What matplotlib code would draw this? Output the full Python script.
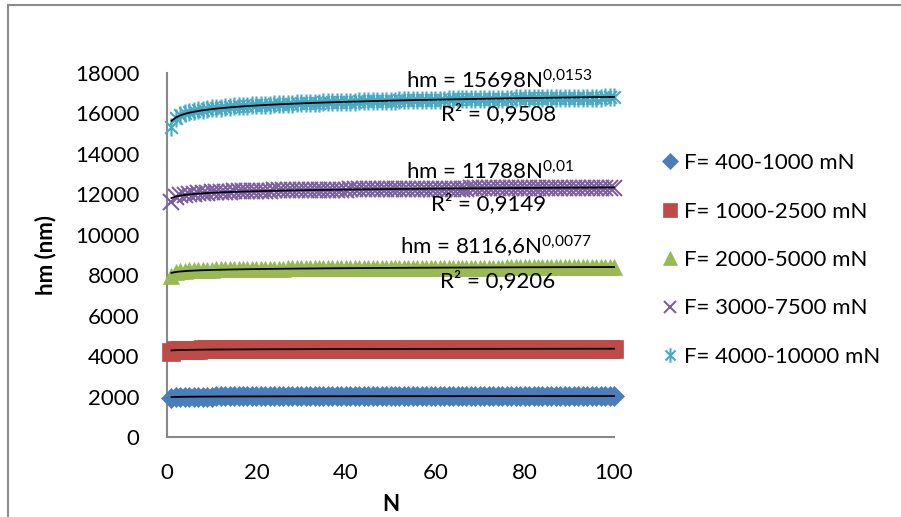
import numpy as np
import matplotlib
matplotlib.use("Agg")
import matplotlib.pyplot as plt
from matplotlib.path import Path
from matplotlib.patches import Rectangle

plt.rcParams['font.family'] = ['Lato', 'DejaVu Sans']
plt.rcParams['mathtext.fontset'] = 'custom'
plt.rcParams['mathtext.rm'] = 'Lato'
plt.rcParams['mathtext.it'] = 'Lato:italic'
plt.rcParams['mathtext.bf'] = 'Lato:bold'

N = list(range(1, 101))

hm_400_1000 = [
    1950, 1985, 1990, 1993, 1995, 1997, 1998, 2000, 2001, 2002,
    2003, 2004, 2004, 2005, 2006, 2006, 2007, 2007, 2008, 2008,
    2009, 2009, 2010, 2010, 2010, 2011, 2011, 2011, 2012, 2012,
    2012, 2013, 2013, 2013, 2014, 2014, 2014, 2014, 2015, 2015,
    2015, 2015, 2016, 2016, 2016, 2016, 2017, 2017, 2017, 2017,
    2017, 2018, 2018, 2018, 2018, 2018, 2019, 2019, 2019, 2019,
    2019, 2019, 2020, 2020, 2020, 2020, 2020, 2020, 2021, 2021,
    2021, 2021, 2021, 2021, 2021, 2022, 2022, 2022, 2022, 2022,
    2022, 2022, 2023, 2023, 2023, 2023, 2023, 2023, 2023, 2024,
    2024, 2024, 2024, 2024, 2024, 2024, 2025, 2025, 2025, 2025]

hm_1000_2500 = [
    4200, 4300, 4310, 4316, 4320, 4323, 4326, 4328, 4330, 4332,
    4333, 4334, 4335, 4336, 4337, 4338, 4339, 4340, 4340, 4341,
    4342, 4342, 4343, 4343, 4344, 4344, 4345, 4345, 4346, 4346,
    4347, 4347, 4347, 4348, 4348, 4348, 4349, 4349, 4349, 4350,
    4350, 4350, 4350, 4351, 4351, 4351, 4352, 4352, 4352, 4352,
    4353, 4353, 4353, 4353, 4354, 4354, 4354, 4354, 4355, 4355,
    4355, 4355, 4355, 4356, 4356, 4356, 4356, 4356, 4357, 4357,
    4357, 4357, 4357, 4358, 4358, 4358, 4358, 4358, 4358, 4359,
    4359, 4359, 4359, 4359, 4359, 4360, 4360, 4360, 4360, 4360,
    4360, 4361, 4361, 4361, 4361, 4361, 4361, 4362, 4362, 4362]

hm_2000_5000 = [
    7950, 8140, 8190, 8215, 8235, 8250, 8260, 8268, 8275, 8282,
    8287, 8292, 8296, 8300, 8304, 8307, 8310, 8313, 8316, 8318,
    8321, 8323, 8325, 8327, 8329, 8331, 8333, 8335, 8336, 8338,
    8340, 8341, 8343, 8344, 8345, 8347, 8348, 8349, 8350, 8352,
    8353, 8354, 8355, 8356, 8357, 8358, 8359, 8360, 8361, 8362,
    8363, 8364, 8365, 8366, 8367, 8368, 8368, 8369, 8370, 8371,
    8372, 8372, 8373, 8374, 8375, 8375, 8376, 8377, 8377, 8378,
    8379, 8379, 8380, 8381, 8381, 8382, 8383, 8383, 8384, 8384,
    8385, 8386, 8386, 8387, 8387, 8388, 8388, 8389, 8389, 8390,
    8391, 8391, 8392, 8392, 8393, 8393, 8394, 8394, 8395, 8395]

hm_3000_7500 = [
    11600, 11880, 11950, 11990, 12020, 12040, 12060, 12075, 12090, 12100,
    12110, 12120, 12130, 12138, 12145, 12150, 12157, 12163, 12168, 12173,
    12178, 12182, 12186, 12190, 12194, 12198, 12202, 12205, 12208, 12211,
    12214, 12217, 12220, 12223, 12226, 12228, 12231, 12233, 12236, 12238,
    12240, 12243, 12245, 12247, 12249, 12251, 12253, 12255, 12257, 12259,
    12261, 12263, 12265, 12267, 12269, 12270, 12272, 12274, 12275, 12277,
    12279, 12280, 12282, 12283, 12285, 12286, 12288, 12289, 12291, 12292,
    12293, 12295, 12296, 12298, 12299, 12300, 12302, 12303, 12304, 12305,
    12307, 12308, 12309, 12310, 12312, 12313, 12314, 12315, 12316, 12318,
    12319, 12320, 12321, 12322, 12323, 12324, 12326, 12327, 12328, 12329]

hm_4000_10000 = [
    15350, 15780, 15930, 16010, 16070, 16120, 16160, 16190, 16220, 16250,
    16270, 16290, 16310, 16330, 16350, 16360, 16380, 16390, 16400, 16410,
    16420, 16430, 16440, 16450, 16460, 16470, 16480, 16490, 16500, 16510,
    16515, 16520, 16530, 16540, 16545, 16550, 16560, 16565, 16570, 16580,
    16585, 16590, 16600, 16605, 16610, 16615, 16620, 16625, 16630, 16635,
    16640, 16645, 16650, 16655, 16660, 16665, 16670, 16672, 16675, 16680,
    16685, 16688, 16690, 16695, 16700, 16702, 16705, 16710, 16712, 16715,
    16720, 16722, 16725, 16728, 16730, 16735, 16738, 16740, 16742, 16745,
    16748, 16750, 16753, 16755, 16758, 16760, 16762, 16765, 16768, 16770,
    16772, 16775, 16778, 16780, 16782, 16785, 16787, 16790, 16792, 16795]

labels = ['F= 400-1000 mN', 'F= 1000-2500 mN', 'F= 2000-5000 mN',
          'F= 3000-7500 mN', 'F= 4000-10000 mN']
series = [hm_400_1000, hm_1000_2500, hm_2000_5000, hm_3000_7500, hm_4000_10000]
colors = ['#4A7EBB', '#BE4B48', '#98B954', '#7D60A0', '#46AAC5']

eq_texts = [None, None,
            'hm = 8116,6N$^{\\mathrm{0{,}0077}}$',
            'hm = 11788N$^{\\mathrm{0{,}01}}$',
            'hm = 15698N$^{\\mathrm{0{,}0153}}$']
r2_texts = [None, None, 'R² = 0,9206', 'R² = 0,9149', 'R² = 0,9508']
eq_pos = [None, None, (73.5, 9000), (72.2, 12709), (74.4, 17258)]
r2_pos = [None, None, (74.0, 7418), (72.0, 11225), (74.2, 15676)]

star = Path([(-0.7, -0.7), (0.7, 0.7), (-0.7, 0.7), (0.7, -0.7), (0, -1), (0, 1)],
            [Path.MOVETO, Path.LINETO, Path.MOVETO, Path.LINETO, Path.MOVETO, Path.LINETO])
marker_styles = [
    dict(marker='D', markersize=10, markerfacecolor=colors[0], markeredgecolor=colors[0], markeredgewidth=0.5),
    dict(marker='s', markersize=13, markerfacecolor=colors[1], markeredgecolor=colors[1], markeredgewidth=0.5),
    dict(marker='^', markersize=12, markerfacecolor=colors[2], markeredgecolor=colors[2], markeredgewidth=0.5),
    dict(marker='x', markersize=11, markerfacecolor='none', markeredgecolor=colors[3], markeredgewidth=1.5),
    dict(marker=star, markersize=13, markerfacecolor='none', markeredgecolor=colors[4], markeredgewidth=1.5),
]

fig = plt.figure(figsize=(9.01, 5.17), dpi=100)
ax = fig.add_axes([167 / 901, 1 - 437 / 517, (614 - 167) / 901, (437 - 73) / 517])

fs = 16
handles = []
Narr = np.array(N, dtype=float)
for vals, lab, ms in zip(series, labels, marker_styles):
    h, = ax.plot(N, vals, linestyle='none', label=lab, clip_on=False, zorder=3, **ms)
    handles.append(h)
for vals in series:
    b, loga = np.polyfit(np.log(Narr), np.log(np.array(vals, dtype=float)), 1)
    ax.plot(Narr, np.exp(loga) * Narr ** b, color='black', lw=1.3, zorder=4, clip_on=False)

for eq, r2, ep, rp in zip(eq_texts, r2_texts, eq_pos, r2_pos):
    if eq is None:
        continue
    ax.text(ep[0], ep[1], eq, ha='center', va='baseline', fontsize=fs, zorder=5)
    ax.text(rp[0], rp[1], r2, ha='center', va='baseline', fontsize=fs, zorder=5)

ax.set_xlim(0, 100)
ax.set_ylim(0, 18000)
ax.set_xticks(range(0, 101, 20))
ax.set_yticks(range(0, 18001, 2000))
ax.tick_params(axis='both', length=0, labelsize=fs)
ax.tick_params(axis='y', pad=20)
ax.tick_params(axis='x', pad=19)
for s in ['top', 'right']:
    ax.spines[s].set_visible(False)
for s in ['left', 'bottom']:
    ax.spines[s].set_color('#898989')
    ax.spines[s].set_linewidth(1.5)

ax.set_ylabel('hm (nm)', fontsize=fs, fontweight='bold')
ax.set_xlabel('N', fontsize=fs, fontweight='bold')
ax.yaxis.set_label_coords((56 - 167) / 447, 0.5)
ax.xaxis.set_label_coords(0.5, (437 - 494) / 364)

fig.legend(handles=handles, labels=labels, loc='center left',
           bbox_to_anchor=(660 / 901, 1 - 260 / 517), frameon=False,
           fontsize=fs, handlelength=0.9, handletextpad=0.2, markerscale=0.8,
           labelspacing=1.28, borderpad=0, borderaxespad=0, numpoints=1)

fig.patches.append(Rectangle((8 / 901, -0.2), 1.5, 1.2 - 5 / 517, transform=fig.transFigure,
                             fill=False, edgecolor='#8C8C8C', lw=1.5))

fig.savefig('out.png', dpi=100)
